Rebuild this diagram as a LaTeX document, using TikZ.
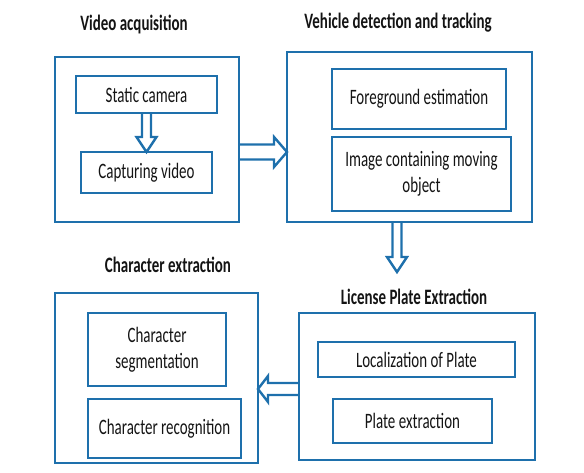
\documentclass[tikz,border=0pt]{standalone}
\usepackage{fontspec}
\setmainfont{Carlito}[FakeStretch=0.68]
\usetikzlibrary{calc}
\definecolor{boxblue}{RGB}{30,112,172}
\definecolor{txt}{RGB}{20,20,20}
\tikzset{
  box/.style={draw=boxblue, line width=2.8pt, rectangle, inner sep=0pt, outer sep=0pt, anchor=north west, text=txt, font=\fontsize{22}{26}\selectfont, align=center},
  ttl/.style={text=txt, font=\fontsize{22}{26}\selectfont\bfseries, inner sep=0pt},
  harrowline/.style={draw=boxblue, line width=2.4pt, line join=miter},
}
% hollow block arrow: from, to, shaft half width, head half width, head length
\newcommand{\harrow}[5]{%
  \coordinate (hbA) at (#1);
  \coordinate (hbB) at (#2);
  \coordinate (hbH) at ($(hbB)!#5!(hbA)$);
  \draw[harrowline] ($(hbA)!#3!90:(hbB)$) -- ($(hbH)!#3!90:(hbB)$) -- ($(hbH)!#4!90:(hbB)$)
    -- (hbB) -- ($(hbH)!#4!-90:(hbB)$) -- ($(hbH)!#3!-90:(hbB)$) -- ($(hbA)!#3!-90:(hbB)$);
}
\begin{document}
\begin{tikzpicture}[x=1pt, y=-1pt]
\useasboundingbox (0,0) rectangle (584,472);
% titles
\node[ttl] (tva) at (134,24) {Video acquisition};
\node[ttl] (tvdt) at (398,23) {Vehicle detection and tracking};
\node[ttl] (tce) at (168,265) {Character extraction};
\node[ttl] (tlpe) at (414,297) {License Plate Extraction};
% outer boxes
\node[box, minimum width=184pt, minimum height=165pt] (va) at (55,57) {};
\node[box, minimum width=245pt, minimum height=170pt] (vdt) at (287,52) {};
\node[box, minimum width=203pt, minimum height=170pt] (ce) at (55,293) {};
\node[box, minimum width=236pt, minimum height=147pt] (lpe) at (299,313) {};
% inner boxes
\node[box, minimum width=141pt, minimum height=37pt] (sc) at (76,76) {Static camera};
\node[box, minimum width=131pt, minimum height=41pt] (cv) at (81,152) {Capturing video};
\node[box, minimum width=174pt, minimum height=60pt] (fe) at (332,69) {Foreground estimation};
\node[box, minimum width=179pt, minimum height=74pt] (ic) at (332,137) {Image containing moving\\object};
\node[box, minimum width=138pt, minimum height=73pt] (cs) at (88,313) {Character\\segmentation};
\node[box, minimum width=153pt, minimum height=59pt] (cr) at (88,399) {Character recognition};
\node[box, minimum width=197pt, minimum height=35pt] (lp) at (318,342) {Localization of Plate};
\node[box, minimum width=159pt, minimum height=44pt] (pe) at (333,399) {Plate extraction};
% arrows
\harrow{sc.south}{cv.north}{4.5pt}{10pt}{15pt}
\coordinate (a2s) at ($(va.east)+(0,12.5)$);
\coordinate (a2e) at (a2s -| vdt.west);
\harrow{a2s}{a2e}{7.5pt}{15pt}{13pt}
\coordinate (a3s) at ($(vdt.south)+(-12.5,0)$);
\coordinate (a3e) at ($(a3s)+(0,50)$);
\harrow{a3s}{a3e}{4.5pt}{10pt}{15pt}
\coordinate (a4s) at ($(lpe.west)+(0,2.5)$);
\coordinate (a4e) at (a4s -| ce.east);
\harrow{a4s}{a4e}{6pt}{13pt}{10pt}
\end{tikzpicture}
\end{document}
